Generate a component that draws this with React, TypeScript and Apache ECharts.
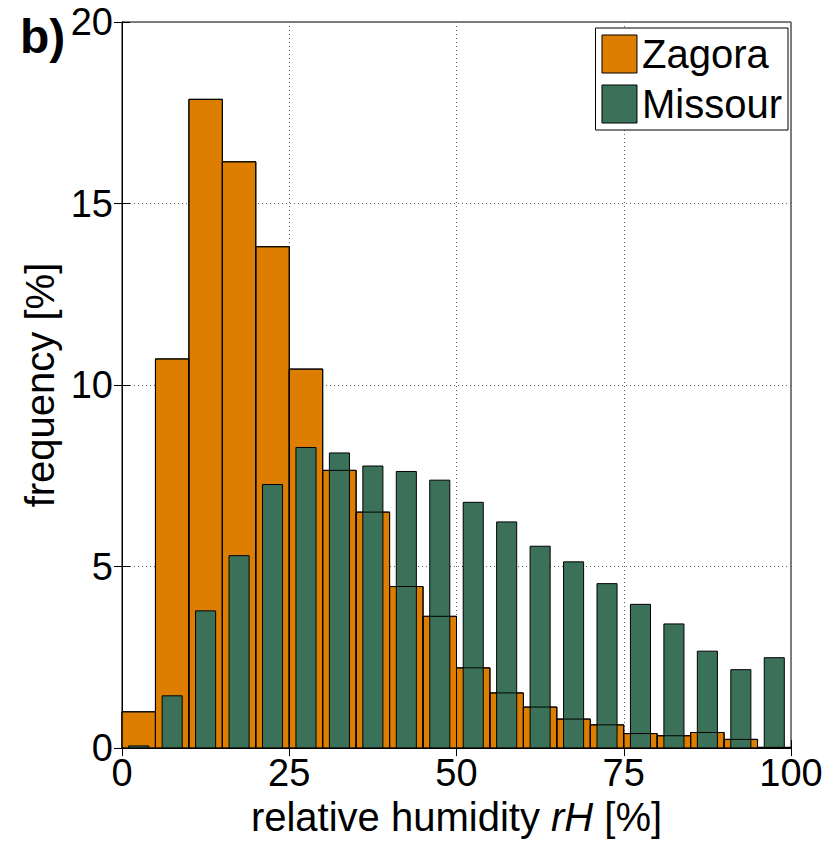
import React, { useEffect, useRef } from "react";
import * as echarts from "echarts";

// Histogram bins (left edge of each 5 % rH bin)
const binStart = [0, 5, 10, 15, 20, 25, 30, 35, 40, 45, 50, 55, 60, 65, 70, 75, 80, 85, 90, 95];
const binWidth = 5;

// frequency [%]
const zagora = [1.0, 10.72, 17.87, 16.15, 13.81, 10.44, 7.65, 6.5, 4.45, 3.63, 2.21, 1.52, 1.13, 0.8, 0.64, 0.4, 0.34, 0.43, 0.24, 0.02];
const missour = [0.06, 1.44, 3.78, 5.3, 7.26, 8.28, 8.13, 7.77, 7.62, 7.38, 6.77, 6.23, 5.56, 5.13, 4.53, 3.96, 3.42, 2.67, 2.16, 2.49];

const xTicks = [0, 25, 50, 75, 100];
const yTicks = [0, 5, 10, 15, 20];

const ORANGE = "#DE7E00";
const GREEN = "#3B7158";
const FONT = "Liberation Sans, Arial, sans-serif";

const toData = (vals: number[]) => vals.map((v, i) => [binStart[i], binStart[i] + binWidth, v]);

const makeRender = (frac: number, fill: string, stroke: string) => (params: any, api: any) => {
  const x0 = api.value(0);
  const x1 = api.value(1);
  const v = api.value(2);
  const c = (x0 + x1) / 2;
  const hw = ((x1 - x0) * frac) / 2;
  const p0 = api.coord([c - hw, v]);
  const p1 = api.coord([c + hw, 0]);
  return {
    type: "rect",
    shape: { x: p0[0], y: p0[1], width: p1[0] - p0[0], height: p1[1] - p0[1] },
    style: { fill, stroke, lineWidth: 1 },
  };
};

export default function App() {
  const ref = useRef<HTMLDivElement>(null);
  useEffect(() => {
    if (!ref.current) return;
    const chart = echarts.init(ref.current, null, { renderer: "svg" });
    const axisCommon = {
      type: "value",
      axisLine: { show: true, lineStyle: { color: "#000", width: 1 } },
      axisTick: { show: true, inside: true, length: 8, lineStyle: { color: "#000" } },
    };
    chart.setOption({
      animation: false,
      backgroundColor: "#fff",
      grid: { left: 122, right: 40, top: 22, bottom: 89, show: true, borderColor: "#000", borderWidth: 1 },
      legend: {
        orient: "vertical",
        right: 43,
        top: 28,
        padding: [6, 6, 6, 6],
        itemGap: 10,
        itemWidth: 35,
        itemHeight: 38,
        backgroundColor: "#fff",
        borderColor: "#000",
        borderWidth: 1,
        textStyle: { fontFamily: FONT, fontSize: 40, lineHeight: 40, color: "#000" },
        data: [
          { name: "Zagora", icon: "rect", itemStyle: { color: ORANGE, borderColor: "#000", borderWidth: 1 } },
          { name: "Missour", icon: "rect", itemStyle: { color: GREEN, borderColor: "#000", borderWidth: 1 } },
        ],
        z: 10,
      },
      xAxis: [
        {
          ...axisCommon,
          position: "bottom",
          min: xTicks[0],
          max: xTicks[xTicks.length - 1],
          interval: 25,
          axisLabel: { fontFamily: FONT, fontSize: 38, color: "#000", margin: 6 },
          splitLine: { show: true, lineStyle: { color: "#666", type: [1, 3], width: 1 } },
          name: "{a|relative humidity }{i|rH}{a| [%]}",
          nameLocation: "middle",
          nameGap: 41,
          nameTextStyle: {
            rich: {
              a: { fontFamily: FONT, fontSize: 40, color: "#000" },
              i: { fontFamily: FONT, fontSize: 40, color: "#000", fontStyle: "italic" },
            },
          },
        },
        {
          ...axisCommon,
          position: "top",
          min: xTicks[0],
          max: xTicks[xTicks.length - 1],
          interval: 25,
          axisLabel: { show: false },
          splitLine: { show: false },
        },
      ],
      yAxis: [
        {
          ...axisCommon,
          position: "left",
          min: yTicks[0],
          max: yTicks[yTicks.length - 1],
          interval: 5,
          axisLabel: { fontFamily: FONT, fontSize: 38, color: "#000", margin: 9 },
          splitLine: { show: true, lineStyle: { color: "#666", type: [1, 3], width: 1 } },
          name: "frequency [%]",
          nameLocation: "middle",
          nameGap: 54,
          nameTextStyle: { fontFamily: FONT, fontSize: 40, color: "#000" },
        },
        {
          ...axisCommon,
          position: "right",
          min: yTicks[0],
          max: yTicks[yTicks.length - 1],
          interval: 5,
          axisLabel: { show: false },
          splitLine: { show: false },
        },
      ],
      graphic: [
        {
          type: "text",
          left: 20,
          top: 12,
          style: { text: "b)", font: `bold 48px ${FONT}`, fill: "#000" },
        },
      ],
      series: [
        {
          name: "Zagora",
          type: "custom",
          renderItem: makeRender(1, ORANGE, "#000"),
          itemStyle: { color: ORANGE, borderColor: "#000" },
          encode: { x: [0, 1], y: 2 },
          data: toData(zagora),
          z: 2,
        },
        {
          name: "Missour",
          type: "custom",
          renderItem: makeRender(0.6, GREEN, "#000"),
          itemStyle: { color: GREEN, borderColor: "#000" },
          encode: { x: [0, 1], y: 2 },
          data: toData(missour),
          z: 3,
        },
        {
          name: "Zagora edges",
          type: "custom",
          renderItem: makeRender(1, "none", "#000"),
          encode: { x: [0, 1], y: 2 },
          data: toData(zagora),
          silent: true,
          z: 4,
        },
      ],
    });
    return () => chart.dispose();
  }, []);
  return <div ref={ref} style={{ width: 831, height: 842, position: "absolute", left: 0, top: 0 }} />;
}
